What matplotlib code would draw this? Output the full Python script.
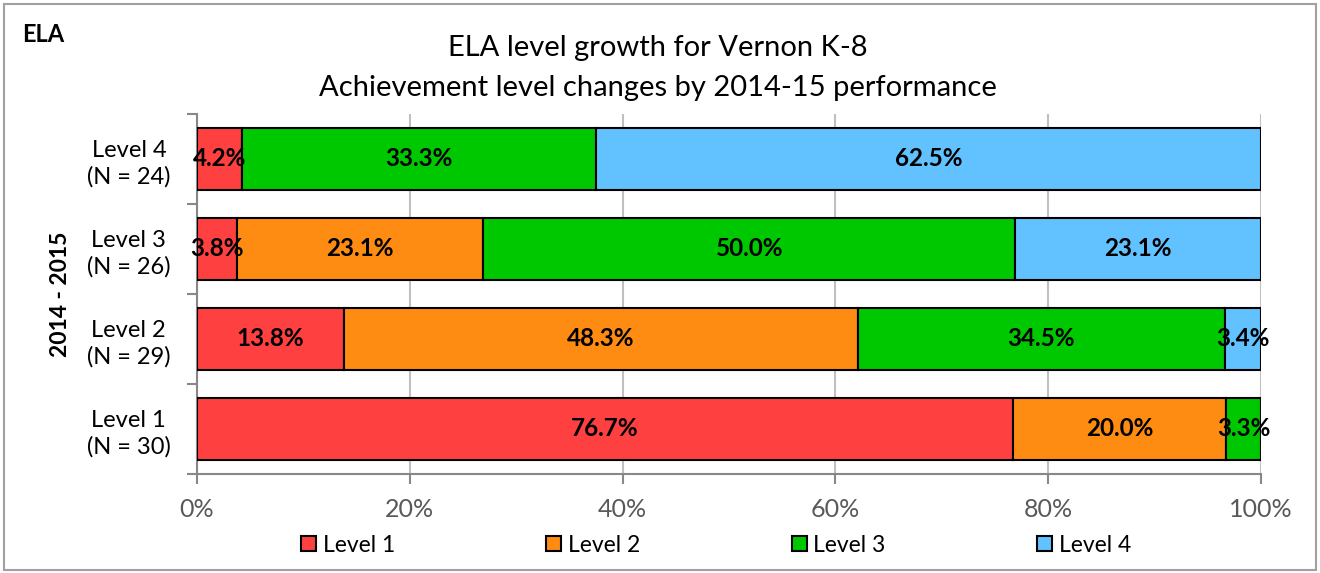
import matplotlib
matplotlib.use("Agg")
import matplotlib.pyplot as plt
from matplotlib.patches import Rectangle
from matplotlib.ticker import PercentFormatter, MultipleLocator, FixedLocator

plt.rcParams['font.family'] = ['Lato', 'DejaVu Sans']

categories = ["Level 1\n(N = 30)", "Level 2\n(N = 29)", "Level 3\n(N = 26)", "Level 4\n(N = 24)"]
series_names = ["Level 1", "Level 2", "Level 3", "Level 4"]
level1 = [76.7, 13.8, 3.8, 4.2]
level2 = [20.0, 48.3, 23.1, 0.0]
level3 = [3.3, 34.5, 50.0, 33.3]
level4 = [0.0, 3.4, 23.1, 62.5]
colors = ["#FF4040", "#FF8C12", "#00C800", "#62C2FF"]

W, H = 1320, 573
fig = plt.figure(figsize=(W / 100, H / 100), dpi=100)
fig.patches.append(Rectangle((4 / W, 3 / H), (W - 8) / W, (H - 7) / H, transform=fig.transFigure,
                             fill=False, edgecolor="#A0A0A0", linewidth=1.5))

ax = fig.add_axes([197 / W, 1 - 474 / H, (1261 - 197) / W, (474 - 114) / H])

y = list(range(len(categories)))
left = [0.0] * len(categories)
for name, vals, c in zip(series_names, [level1, level2, level3, level4], colors):
    ax.barh(y, vals, left=left, height=0.68, color=c, edgecolor="black", linewidth=1.5,
            label=name, zorder=3)
    for yi, v, l in zip(y, vals, left):
        if v > 0:
            ax.text(l + v / 2, yi, f"{v:.1f}%", ha="center", va="center", fontsize=17.5,
                    fontweight="bold", color="black", zorder=4)
    left = [a + b for a, b in zip(left, vals)]

ax.set_xlim(0, 100)
ax.set_ylim(-0.5, 3.5)
ax.xaxis.set_major_locator(MultipleLocator(20))
ax.xaxis.set_major_formatter(PercentFormatter(decimals=0))
ax.set_yticks(y)
ax.set_yticklabels(categories, fontsize=17, linespacing=1.3, multialignment="center")
ax.yaxis.set_minor_locator(FixedLocator([-0.5, 0.5, 1.5, 2.5, 3.5]))
ax.tick_params(axis="y", which="major", length=0, pad=19)
ax.tick_params(axis="y", which="minor", length=7, width=1.5, color="#888888")
ax.tick_params(axis="x", length=7, width=1.5, color="#888888", labelsize=18, labelcolor="#595959", pad=10)
ax.grid(axis="x", color="#C0C0C0", linewidth=1.5, zorder=0)
for s in ["top", "right"]:
    ax.spines[s].set_visible(False)
for s in ["left", "bottom"]:
    ax.spines[s].set_color("#888888")
    ax.spines[s].set_linewidth(1.5)

ax.set_ylabel("2014 - 2015", fontsize=16.5, fontweight="bold")
ax.yaxis.set_label_coords(-0.118, 0.5)

fig.text(22 / W, 1 - 34 / H, "ELA", fontsize=17, fontweight="bold", va="center", ha="left")
fig.text(658 / W, 1 - 48 / H, "ELA level growth for Vernon K-8", fontsize=21, ha="center", va="center")
fig.text(658 / W, 1 - 88 / H, "Achievement level changes by 2014-15 performance", fontsize=21,
         ha="center", va="center")

leg = fig.legend(loc="center", bbox_to_anchor=(716 / W, 1 - 545 / H), ncol=4, frameon=False,
                 fontsize=16.5, handlelength=0.65, handleheight=0.65, handletextpad=0.3,
                 columnspacing=6.6, borderpad=0, borderaxespad=0)

fig.savefig("out.png", dpi=100)
